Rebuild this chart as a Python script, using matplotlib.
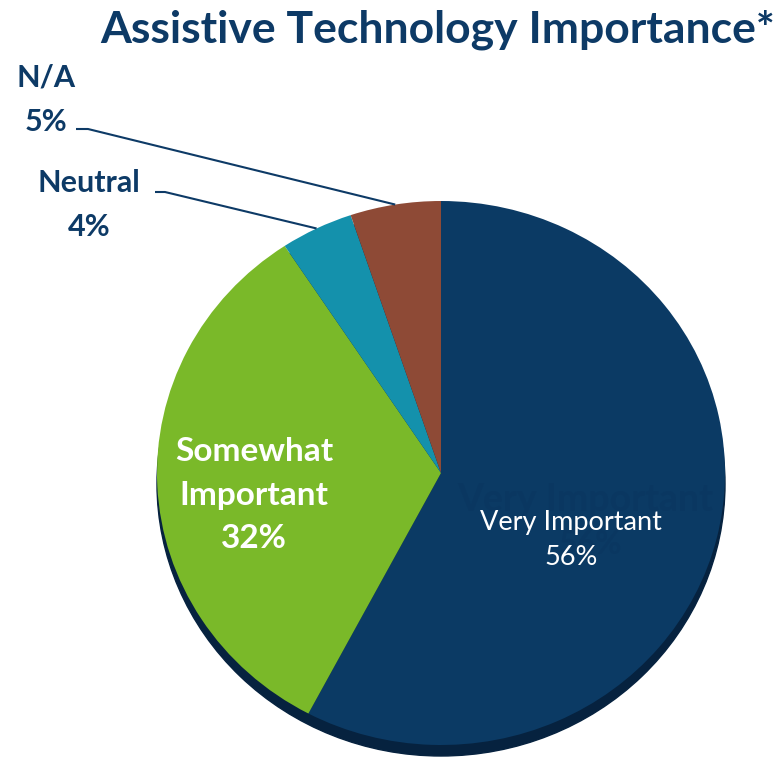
import matplotlib
matplotlib.use("Agg")
import matplotlib.pyplot as plt
import numpy as np
from matplotlib.patches import Ellipse

plt.rcParams["font.family"] = ["Lato", "DejaVu Sans"]

# survey answers, in percent
categories = ["Very Important", "Somewhat Important", "Neutral", "N/A"]
values = [56, 32, 4, 5]
colors = ["#0b3a64", "#7ab929", "#1491ac", "#8e4a36"]

title = "Assistive Technology Importance*"
navy = "#0d3a66"

W, H = 779, 761
fig = plt.figure(figsize=(W / 100, H / 100), dpi=100)

# pie geometry in pixels (slightly squashed, like a tilted disc)
cx, cy = 441, 473
rx, ry = 284, 272
rim = 11

pie_ax = fig.add_axes([(cx - rx) / W, (H - cy - ry) / H, 2 * rx / W, 2 * ry / H])

wedges, _ = pie_ax.pie(values, colors=colors, startangle=90, counterclock=False,
                       radius=1, center=(0, 0), frame=False,
                       wedgeprops=dict(linewidth=0))
for w in wedges:
    w.set_clip_on(False)
    w.set_zorder(1)

# pie() resets limits and aspect, so set them afterwards
pie_ax.set_xlim(-1, 1)
pie_ax.set_ylim(-1, 1)
pie_ax.set_aspect("auto")
pie_ax.axis("off")

# darker edge under the disc
pie_ax.add_patch(Ellipse((0, -rim / ry), 2, 2, color="#06223f", zorder=0, clip_on=False))

# overlay in pixel coordinates for text and leader lines
ov = fig.add_axes([0, 0, 1, 1], facecolor="none")
ov.set_xlim(0, W)
ov.set_ylim(H, 0)
ov.axis("off")

ov.text(438, 30, title, ha="center", va="center", fontsize=32,
        fontweight="bold", color=navy)

# slice mid-angles, for the leader line ends
fracs = np.array(values) / sum(values)
ends = 90 - np.cumsum(fracs) * 360
starts = ends + fracs * 360
mids = np.radians((starts + ends) / 2)


def edge_point(i):
    return cx + rx * np.cos(mids[i]), cy - ry * np.sin(mids[i])


# faint echo of the main label behind it, kept inside the big slice
for txt, x, y, fs in [("Very Important", 585, 500, 27), (f"{values[0]}%", 590, 545, 23)]:
    t = ov.text(x, y, txt, ha="center", va="center", fontsize=fs,
                fontweight="bold", color="#0a3761")
    t.set_clip_path(wedges[0])

ov.text(571, 540, f"Very Important\n{values[0]}%", ha="center", va="center",
        fontsize=19.5, color="white", linespacing=1.48)
ov.text(254, 495, f"Somewhat\nImportant\n{values[1]}%", ha="center", va="center",
        fontsize=24, fontweight="bold", color="white", linespacing=1.6)

ov.text(46, 100, f"N/A\n{values[3]}%", ha="center", va="center",
        fontsize=22, fontweight="bold", color=navy, linespacing=1.72)
ov.text(89, 205, f"Neutral\n{values[2]}%", ha="center", va="center",
        fontsize=22, fontweight="bold", color=navy, linespacing=1.7)

# leader lines
x3, y3 = edge_point(3)
ov.plot([76, 88, x3], [129, 129, y3], color=navy, lw=1.5, solid_capstyle="butt")
x2, y2 = edge_point(2)
ov.plot([155, 165, x2], [192, 192, y2], color=navy, lw=1.5, solid_capstyle="butt")

fig.savefig("out.png", dpi=100)
